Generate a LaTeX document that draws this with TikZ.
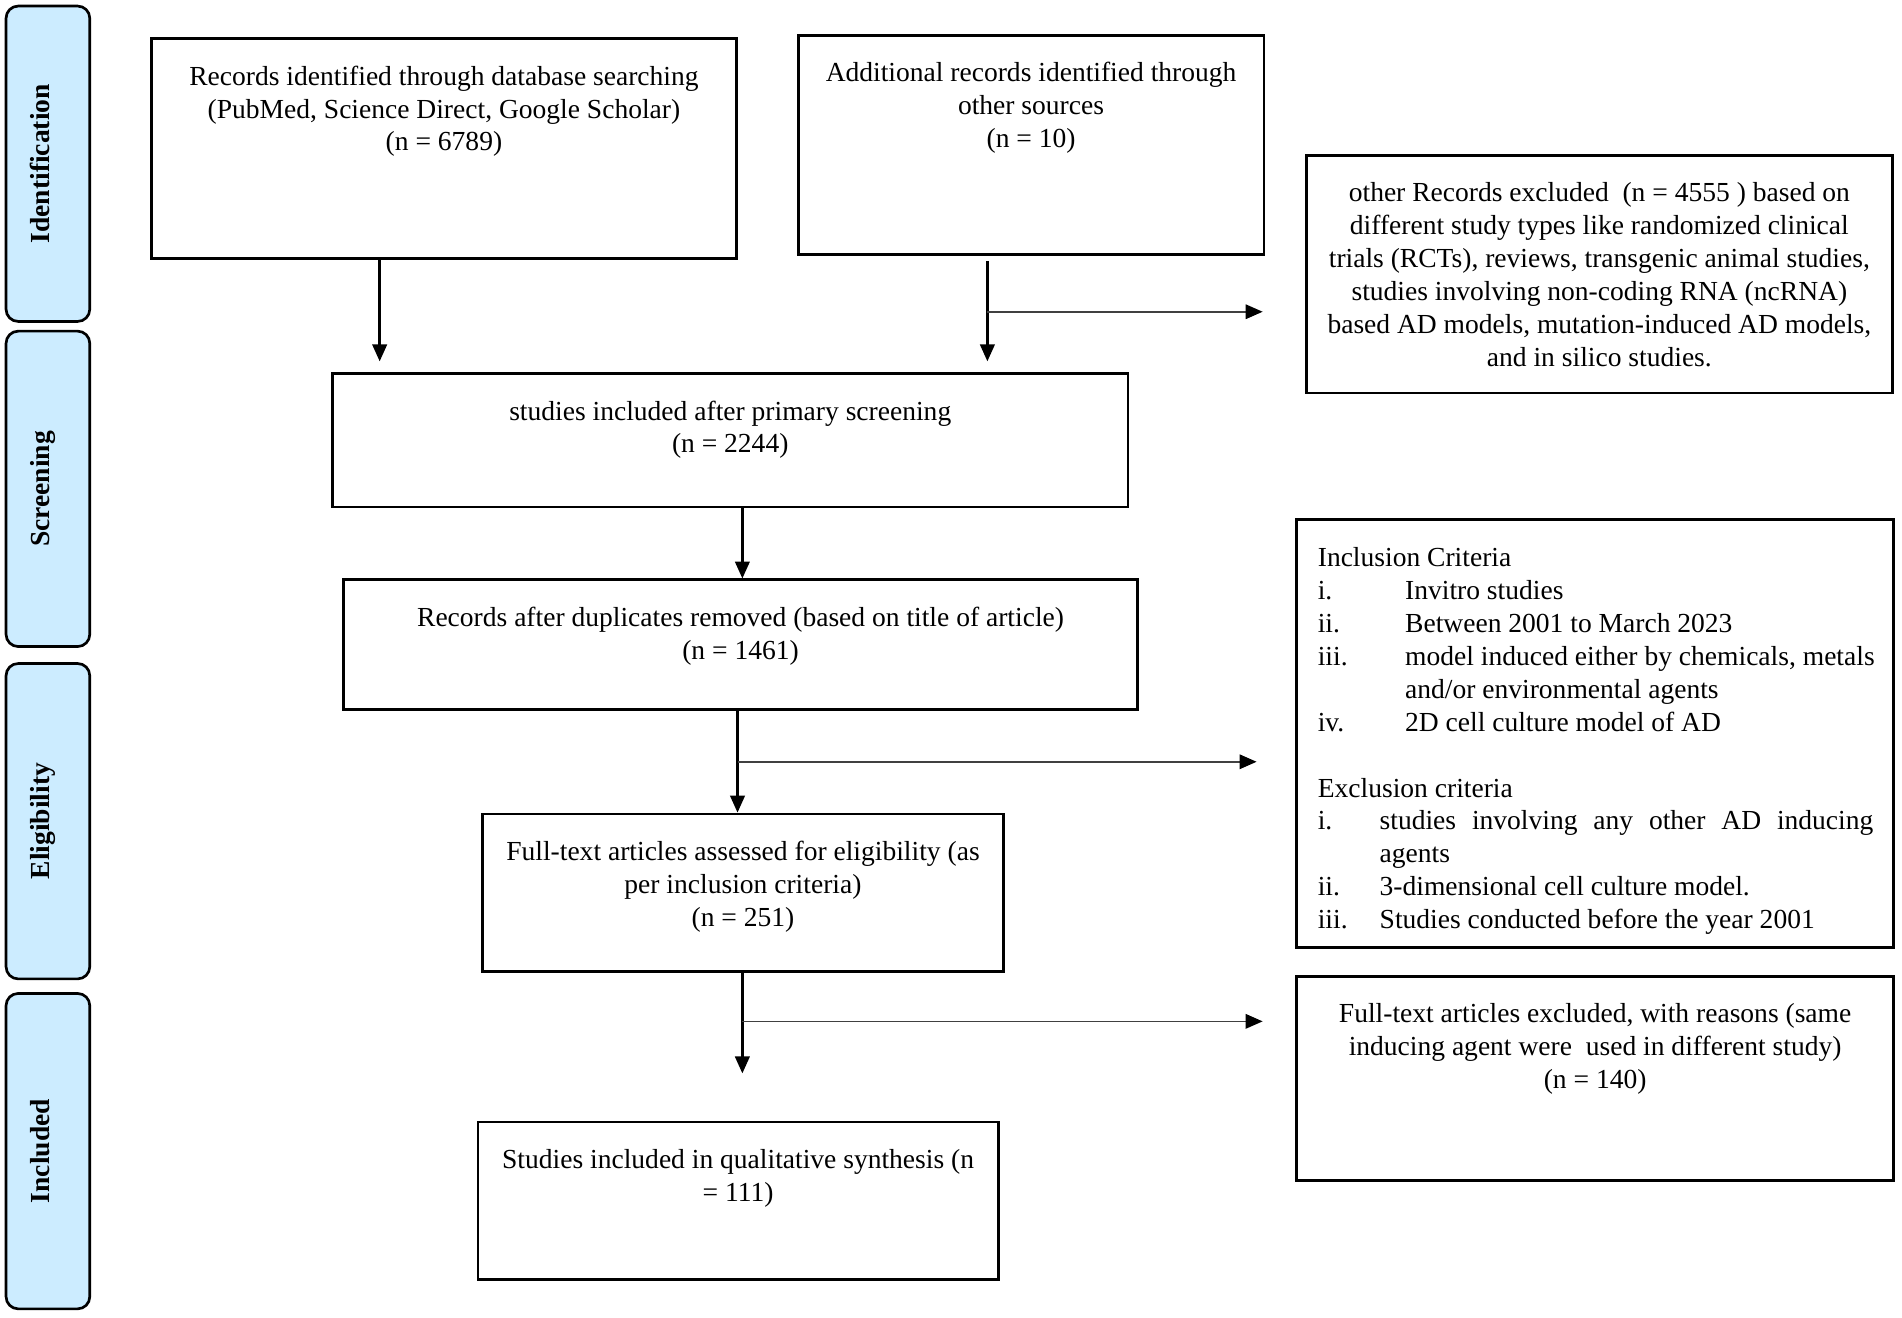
\documentclass[tikz,border=0pt]{standalone}
\usepackage{fontspec}
\setmainfont{Liberation Serif}
\usetikzlibrary{arrows.meta}
\definecolor{sidefill}{RGB}{204,236,255}
\newcommand{\fsz}{\fontsize{11.35pt}{13.55pt}\selectfont}
\begin{document}
\begin{tikzpicture}[x=0.5pt,y=-0.5pt,
  box/.style={draw=black,line width=1.1pt,inner sep=0pt},
  side/.style={draw=black,line width=1.1pt,fill=sidefill,rounded corners=5pt,inner sep=0pt,minimum width=34.5pt,minimum height=130pt},
  sidetext/.style={font=\fsz\bfseries,rotate=90,anchor=base,inner sep=0pt},
  txt/.style={font=\fsz,align=center,anchor=north,inner sep=0pt,yshift=-10pt},
  arr/.style={line width=1pt,-{Triangle[length=7pt,width=6pt]}},
  brn/.style={line width=0.65pt,draw=black!75,-{Triangle[length=7pt,width=6pt,color=black]}},
]
\useasboundingbox (0,0) rectangle (1568,1086);

% side labels
\node[side] (sid) at (39.5,135) {};
\node[side] (sscr) at (39.5,403) {};
\node[side] (selig) at (39.5,677) {};
\node[side] (sinc) at (39.5,949) {};
\node[sidetext] (tid) at (41,135) {Identification};
\node[sidetext] (tscr) at (41,403) {Screening};
\node[sidetext] (telig) at (41,677) {Eligibility};
\node[sidetext] (tinc) at (41,949) {Included};

% boxes
\node[box,minimum width=241pt,minimum height=90.5pt] (B1) at (366,122.5) {};
\node[box,minimum width=192pt,minimum height=90.5pt] (B2) at (850,119.5) {};
\node[box,minimum width=241.5pt,minimum height=98pt] (Ex1) at (1318.5,226) {};
\node[box,minimum width=328pt,minimum height=55pt] (S1) at (602,363) {};
\node[box,minimum width=327.5pt,minimum height=53.5pt] (R) at (610.5,531.5) {};
\node[box,minimum width=246pt,minimum height=176.5pt] (Crit) at (1315,604.5) {};
\node[box,minimum width=214.5pt,minimum height=65pt] (F) at (612.5,736) {};
\node[box,minimum width=246pt,minimum height=84pt] (Ex2) at (1315,889) {};
\node[box,minimum width=214.5pt,minimum height=65pt] (Fin) at (608.5,990) {};

% texts
\node[txt] (tB1) at (B1.north) {\strut Records identified through database searching\\(PubMed, Science Direct, Google Scholar)\\(n = 6789)};
\node[txt] (tB2) at (B2.north) {\strut Additional records identified through\\other sources\\(n = 10)};
\node[txt] (tEx1) at (Ex1.north) {\strut other Records excluded\ \ (n = 4555 ) based on\\different study types like randomized clinical\\trials (RCTs), reviews, transgenic animal studies,\\studies involving non-coding RNA (ncRNA)\\based AD models, mutation-induced AD models,\\and in silico studies.};
\node[txt] (tS1) at (S1.north) {\strut studies included after primary screening\\(n = 2244)};
\node[txt] (tR) at (R.north) {\strut Records after duplicates removed (based on title of article)\\(n = 1461)};
\node[txt] (tF) at (F.north) {\strut Full-text articles assessed for eligibility (as\\per inclusion criteria)\\(n = 251)};
\node[txt] (tEx2) at (Ex2.north) {\strut Full-text articles excluded, with reasons (same\\inducing agent were\ \ used in different study)\\(n = 140)};
\node[txt] (tFin) at (Fin.north) {\strut Studies included in qualitative synthesis (n\\= 111)};
\node[font=\fsz,align=left,anchor=north west,inner sep=0pt,yshift=-10pt] (tCrit) at (1086,428) {\strut Inclusion Criteria\\
\makebox[36pt][l]{i.}Invitro studies\\
\makebox[36pt][l]{ii.}Between 2001 to March 2023\\
\makebox[36pt][l]{iii.}model induced either by chemicals, metals\\
\hspace*{36pt}and/or environmental agents\\
\makebox[36pt][l]{iv.}2D cell culture model of AD\\
\mbox{}\\
Exclusion criteria\\
\makebox[25.5pt][l]{i.}\makebox[203.5pt][s]{studies involving any other AD inducing}\\
\hspace*{25.5pt}agents\\
\makebox[25.5pt][l]{ii.}3-dimensional cell culture model.\\
\makebox[25.5pt][l]{iii.}Studies conducted before the year 2001};

% connector x / y positions
\coordinate (x1) at (313,0);
\coordinate (x2) at (814,0);
\coordinate (x3) at (612,0);
\coordinate (x4) at (608,0);
\coordinate (y1) at (0,257);
\coordinate (y2) at (0,628);
\coordinate (y3) at (0,842);

\draw[arr,shorten >=4.5pt] (B1.south -| x1) -- (S1.north -| x1);
\draw[arr,shorten <=2pt,shorten >=4.5pt] (B2.south -| x2) -- (S1.north -| x2);
\draw[brn,shorten >=17.5pt] (x2 |- y1) -- (Ex1.west |- y1);
\draw[arr] (S1.south -| x3) -- (R.north -| x3);
\draw[arr] (R.south -| x4) -- (F.north -| x4);
\draw[brn,shorten >=16pt] (x4 |- y2) -- (Crit.west |- y2);
\draw[arr,shorten >=19.5pt] (F.south -| x3) -- (Fin.north -| x3);
\draw[brn,shorten >=13.5pt] (x3 |- y3) -- (Ex2.west |- y3);
\end{tikzpicture}
\end{document}
